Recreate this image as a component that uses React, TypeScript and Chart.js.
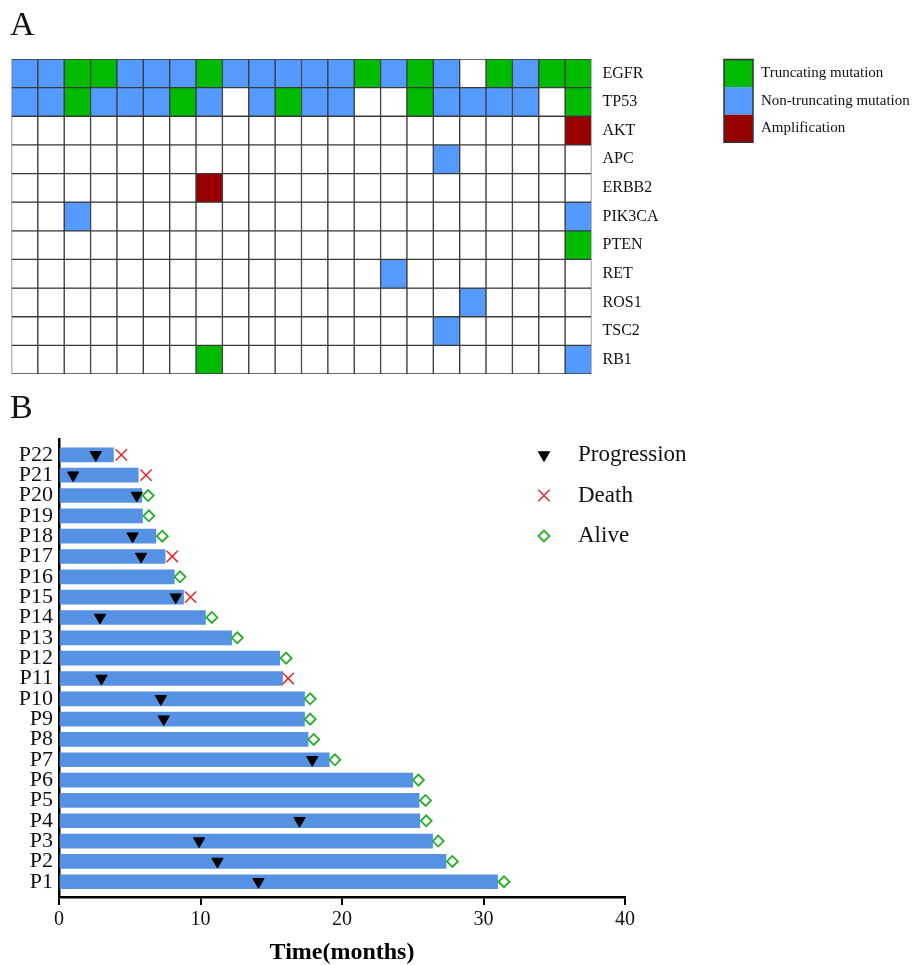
import React, { useEffect, useRef } from 'react';
import { Chart, registerables } from 'chart.js';
import * as helpers from 'chart.js/helpers';

Chart.register(...registerables);

const SERIF = '"Liberation Serif", "Times New Roman", serif';

// ---------- Panel A: mutation landscape ----------
const genes = ['EGFR', 'TP53', 'AKT', 'APC', 'ERBB2', 'PIK3CA', 'PTEN', 'RET', 'ROS1', 'TSC2', 'RB1'];
const sampleIds = ['S1', 'S2', 'S3', 'S4', 'S5', 'S6', 'S7', 'S8', 'S9', 'S10', 'S11', 'S12', 'S13', 'S14', 'S15', 'S16', 'S17', 'S18', 'S19', 'S20', 'S21', 'S22'];
const alterationTypes = ['Truncating mutation', 'Non-truncating mutation', 'Amplification'];
const alterationColors = ['#00BB00', '#559BFF', '#990000'];
// 0 = none, 1 = truncating, 2 = non-truncating, 3 = amplification
const EGFR = [2, 2, 1, 1, 2, 2, 2, 1, 2, 2, 2, 2, 2, 1, 2, 1, 2, 0, 1, 2, 1, 1];
const TP53 = [2, 2, 1, 2, 2, 2, 1, 2, 0, 2, 1, 2, 2, 0, 0, 1, 2, 2, 2, 2, 0, 1];
const AKT = [0, 0, 0, 0, 0, 0, 0, 0, 0, 0, 0, 0, 0, 0, 0, 0, 0, 0, 0, 0, 0, 3];
const APC = [0, 0, 0, 0, 0, 0, 0, 0, 0, 0, 0, 0, 0, 0, 0, 0, 2, 0, 0, 0, 0, 0];
const ERBB2 = [0, 0, 0, 0, 0, 0, 0, 3, 0, 0, 0, 0, 0, 0, 0, 0, 0, 0, 0, 0, 0, 0];
const PIK3CA = [0, 0, 2, 0, 0, 0, 0, 0, 0, 0, 0, 0, 0, 0, 0, 0, 0, 0, 0, 0, 0, 2];
const PTEN = [0, 0, 0, 0, 0, 0, 0, 0, 0, 0, 0, 0, 0, 0, 0, 0, 0, 0, 0, 0, 0, 1];
const RET = [0, 0, 0, 0, 0, 0, 0, 0, 0, 0, 0, 0, 0, 0, 2, 0, 0, 0, 0, 0, 0, 0];
const ROS1 = [0, 0, 0, 0, 0, 0, 0, 0, 0, 0, 0, 0, 0, 0, 0, 0, 0, 2, 0, 0, 0, 0];
const TSC2 = [0, 0, 0, 0, 0, 0, 0, 0, 0, 0, 0, 0, 0, 0, 0, 0, 2, 0, 0, 0, 0, 0];
const RB1 = [0, 0, 0, 0, 0, 0, 0, 1, 0, 0, 0, 0, 0, 0, 0, 0, 0, 0, 0, 0, 0, 2];
const geneRows = [EGFR, TP53, AKT, APC, ERBB2, PIK3CA, PTEN, RET, ROS1, TSC2, RB1];

// ---------- Panel B: swimmer plot (P1 ... P22) ----------
const patients = ['P1', 'P2', 'P3', 'P4', 'P5', 'P6', 'P7', 'P8', 'P9', 'P10', 'P11', 'P12', 'P13', 'P14', 'P15', 'P16', 'P17', 'P18', 'P19', 'P20', 'P21', 'P22'];
const durations = [31.0, 27.35, 26.4, 25.5, 25.45, 25.0, 19.1, 17.6, 17.35, 17.35, 15.8, 15.6, 12.2, 10.35, 8.8, 8.15, 7.5, 6.85, 5.9, 5.85, 5.6, 3.85];
const progression = [14.1, 11.2, 9.9, 17.0, null, null, 17.9, null, 7.4, 7.2, 3.0, null, null, 2.9, 8.25, null, 5.8, 5.2, null, 5.5, 1.0, 2.6];
const deathAt = [null, null, null, null, null, null, null, null, null, null, 16.2, null, null, null, 9.3, null, 8.0, null, null, null, 6.15, 4.4];
const aliveAt = [31.45, 27.8, 26.8, 25.95, 25.9, 25.4, 19.5, 18.0, 17.75, 17.75, null, 16.05, 12.6, 10.8, null, 8.55, null, 7.3, 6.35, 6.3, null, null];
const timeTicks = [0, 10, 20, 30, 40];

const toPoints = (arr: (number | null)[]) =>
  arr.map((v, i) => (v == null ? null : { x: v, y: i + 1 })).filter(Boolean) as { x: number; y: number }[];

const legendAPlugin = {
  id: 'legendA',
  afterDraw(chart: any) {
    const ctx = chart.ctx;
    const x = 724, y0 = 59.5, w = 29, h = 27.6;
    ctx.save();
    alterationTypes.forEach((t, i) => {
      ctx.fillStyle = alterationColors[i];
      ctx.fillRect(x, y0 + i * h, w, h);
    });
    ctx.strokeStyle = '#333';
    ctx.lineWidth = 1.5;
    ctx.strokeRect(x, y0, w, h * alterationTypes.length);
    ctx.fillStyle = '#111';
    ctx.font = `15px ${SERIF}`;
    ctx.textBaseline = 'middle';
    ctx.textAlign = 'left';
    alterationTypes.forEach((t, i) => {
      ctx.fillText(t, 761, y0 + i * h + h / 2);
    });
    ctx.restore();
  },
};

const legendBPlugin = {
  id: 'legendB',
  afterDraw(chart: any) {
    const ctx = chart.ctx;
    ctx.save();
    const items = chart.data.datasets.slice(1);
    items.forEach((ds: any, i: number) => {
      const cy = 65 + i * 40.5;
      ctx.fillStyle = ds.backgroundColor;
      ctx.strokeStyle = ds.borderColor;
      ctx.lineWidth = ds.borderWidth;
      helpers.drawPoint(ctx, { pointStyle: ds.pointStyle, rotation: ds.rotation || 0, radius: ds.pointRadius, borderWidth: ds.borderWidth }, 544, cy);
      ctx.fillStyle = '#111';
      ctx.font = `23px ${SERIF}`;
      ctx.textBaseline = 'middle';
      ctx.textAlign = 'left';
      ctx.fillText(ds.label, 578, cy);
    });
    ctx.restore();
  },
};

export default function App() {
  const refA = useRef<HTMLCanvasElement>(null);
  const refB = useRef<HTMLCanvasElement>(null);

  useEffect(() => {
    const chartA = new Chart(refA.current as HTMLCanvasElement, {
      type: 'bar',
      data: {
        labels: sampleIds,
        datasets: geneRows.map((row, gi) => ({
          label: genes[gi],
          data: row.map(() => [gi, gi + 1]),
          backgroundColor: row.map((c) => (c === 0 ? '#FFFFFF' : alterationColors[c - 1])),
          borderColor: '#3a3a3a',
          borderWidth: 1,
          borderSkipped: false,
          barPercentage: 1,
          categoryPercentage: 1,
          grouped: false,
          yAxisID: 'y',
        })) as any,
      },
      options: {
        animation: false,
        responsive: false,
        events: [],
        layout: { padding: { left: 11.5, top: 59, bottom: 16, right: 0 } },
        plugins: { legend: { display: false }, tooltip: { enabled: false } },
        scales: {
          x: { display: false, offset: true },
          y: { type: 'linear', display: false, min: 0, max: genes.length, reverse: true },
          yG: {
            type: 'category',
            labels: genes,
            position: 'right',
            offset: true,
            grid: { display: false },
            border: { display: false },
            ticks: { padding: 3, color: '#111', font: { family: SERIF, size: 16 } },
            afterFit: (s: any) => {
              s.width = 919 - 591.5;
            },
          },
        } as any,
      },
      plugins: [legendAPlugin],
    });

    const chartB = new Chart(refB.current as HTMLCanvasElement, {
      type: 'bar',
      data: {
        datasets: [
          {
            type: 'bar',
            label: 'Duration',
            data: durations.map((d, i) => ({ x: d, y: i + 1 })),
            backgroundColor: '#5592E3',
            barThickness: 14,
            order: 4,
          },
          {
            type: 'scatter',
            label: 'Progression',
            data: toPoints(progression),
            pointStyle: 'triangle',
            rotation: 180,
            pointRadius: 6.5,
            backgroundColor: '#000000',
            borderColor: '#000000',
            borderWidth: 1,
            order: 1,
          },
          {
            type: 'scatter',
            label: 'Death',
            data: toPoints(deathAt),
            pointStyle: 'crossRot',
            pointRadius: 8,
            backgroundColor: '#E8272A',
            borderColor: '#E8272A',
            borderWidth: 1.5,
            order: 1,
          },
          {
            type: 'scatter',
            label: 'Alive',
            data: toPoints(aliveAt),
            pointStyle: 'rectRot',
            pointRadius: 5.5,
            backgroundColor: 'rgba(0,0,0,0)',
            borderColor: '#22B022',
            borderWidth: 1.8,
            order: 1,
          },
        ] as any,
      },
      options: {
        animation: false,
        responsive: false,
        events: [],
        indexAxis: 'y',
        layout: { padding: { left: 0, top: 49, bottom: 0, right: 919 - 625 } },
        plugins: { legend: { display: false }, tooltip: { enabled: false } },
        scales: {
          x: {
            type: 'linear',
            min: 0,
            max: 40,
            offset: false,
            afterBuildTicks: (s: any) => {
              s.ticks = timeTicks.map((v) => ({ value: v }));
            },
            grid: { drawOnChartArea: false, drawTicks: true, tickLength: 8, color: '#000', lineWidth: 2 },
            border: { display: true, color: '#000', width: 2.5 },
            ticks: { padding: 3, color: '#111', font: { family: SERIF, size: 20 } },
            title: {
              display: true,
              text: 'Time(months)',
              color: '#000',
              padding: { top: 0, bottom: 0 },
              font: { family: SERIF, size: 24, weight: 'bold', lineHeight: 1 },
            },
            afterFit: (s: any) => {
              s.height = 68;
            },
          },
          y: {
            type: 'linear',
            min: 0.25,
            max: 22.78,
            offset: false,
            afterBuildTicks: (s: any) => {
              s.ticks = patients.map((_, i) => ({ value: i + 1 }));
            },
            grid: { display: true, drawOnChartArea: false, drawTicks: false, offset: false },
            border: { display: true, color: '#000', width: 2.5 },
            ticks: {
              autoSkip: false,
              padding: 6,
              color: '#111',
              font: { family: SERIF, size: 22 },
              callback: (v: any) => patients[Math.round(Number(v)) - 1],
            },
            afterFit: (s: any) => {
              s.width = 59;
            },
          },
        } as any,
      },
      plugins: [legendBPlugin],
    });

    return () => {
      chartA.destroy();
      chartB.destroy();
    };
  }, []);

  return (
    <div style={{ position: 'absolute', left: 0, top: 0, width: 919, height: 965, background: '#fff', fontFamily: SERIF }}>
      <canvas ref={refA} width={919} height={390} style={{ position: 'absolute', left: 0, top: 0 }} />
      <canvas ref={refB} width={919} height={575} style={{ position: 'absolute', left: 0, top: 390 }} />
      <div style={{ position: 'absolute', left: 10, top: 5, fontSize: 34, lineHeight: '38px', color: '#111' }}>A</div>
      <div style={{ position: 'absolute', left: 10, top: 388, fontSize: 34, lineHeight: '38px', color: '#111' }}>B</div>
    </div>
  );
}
